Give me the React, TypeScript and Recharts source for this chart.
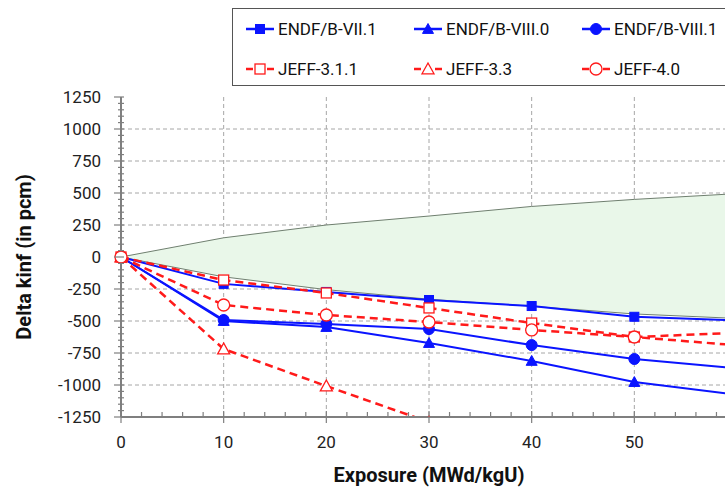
import {
  ComposedChart,
  Line,
  Area,
  XAxis,
  YAxis,
  CartesianGrid,
  Legend,
} from "recharts"

// exposure points (MWd/kgU)
const exposure = [0, 10, 20, 30, 40, 50, 60]

// delta kinf in pcm
const endf71 = [0, -210, -273, -336, -383, -467, -495]
const endf80 = [0, -500, -547, -672, -812, -977, -1075]
const endf81 = [0, -492, -523, -563, -688, -797, -870]
const jeff311 = [0, -180, -281, -398, -516, -625, -592]
const jeff33 = [0, -719, -1008, -1290, null, null, null]
const jeff40 = [0, -375, -453, -508, -570, -625, -690]

// uncertainty band
const bandHigh = [0, 150, 250, 320, 395, 450, 495]
const bandLow = [0, -155, -255, -330, -385, -445, -480]

const yMajor = [-1250, -1000, -750, -500, -250, 0, 250, 500, 750, 1000, 1250]
const xMajor = [0, 10, 20, 30, 40, 50, 60]

const yTicks: number[] = []
for (let v = -1250; v <= 1250; v += 50) yTicks.push(v)
const xTicks: number[] = []
for (let v = 0; v <= 60; v += 2) xTicks.push(v)

const BLUE = "#0a14ff"
const RED = "#ff1a1a"
const AXIS = "#7f7f7f"
const FONT = "Roboto, 'Open Sans', sans-serif"

type Shape = "square" | "triangle" | "circle"

const series = [
  { key: "endf71", name: "ENDF/B-VII.1", color: BLUE, shape: "square" as Shape, dashed: false },
  { key: "endf80", name: "ENDF/B-VIII.0", color: BLUE, shape: "triangle" as Shape, dashed: false },
  { key: "endf81", name: "ENDF/B-VIII.1", color: BLUE, shape: "circle" as Shape, dashed: false },
  { key: "jeff311", name: "JEFF-3.1.1", color: RED, shape: "square" as Shape, dashed: true },
  { key: "jeff33", name: "JEFF-3.3", color: RED, shape: "triangle" as Shape, dashed: true },
  { key: "jeff40", name: "JEFF-4.0", color: RED, shape: "circle" as Shape, dashed: true },
]

const values: Record<string, (number | null)[]> = { endf71, endf80, endf81, jeff311, jeff33, jeff40 }

const data = exposure.map((x, i) => {
  const row: any = { x, band: [bandLow[i], bandHigh[i]] }
  series.forEach((s) => (row[s.key] = values[s.key][i]))
  return row
})

function marker(shape: Shape, cx: number, cy: number, color: string, open: boolean, key?: any) {
  const fill = open ? "#fff" : color
  const sw = open ? 1.3 : 1
  if (shape === "square") {
    const h = open ? 5 : 4.5
    return <rect key={key} x={cx - h} y={cy - h} width={h * 2} height={h * 2} fill={fill} stroke={color} strokeWidth={sw} />
  }
  if (shape === "triangle") {
    const h = open ? 6 : 5.5
    return (
      <polygon
        key={key}
        points={`${cx},${cy - h} ${cx + h},${cy + h * 0.8} ${cx - h},${cy + h * 0.8}`}
        fill={fill}
        stroke={color}
        strokeWidth={sw}
      />
    )
  }
  return <circle key={key} cx={cx} cy={cy} r={open ? 6 : 5.5} fill={fill} stroke={color} strokeWidth={sw} />
}

const YTick = ({ x, y, payload }: any) => {
  const v = payload.value
  const major = v % 250 === 0
  return (
    <g>
      <line x1={major ? x - 7 : x - 3} x2={x + 3} y1={y} y2={y} stroke={AXIS} strokeWidth={1.2} />
      {major && (
        <text x={x - 20} y={y} dy={6} textAnchor="end" fontSize={17} fill="#222" fontFamily={FONT}>
          {v}
        </text>
      )}
    </g>
  )
}

const XTick = ({ x, y, payload }: any) => {
  const v = payload.value
  const major = v % 10 === 0
  return (
    <g>
      <line x1={x} x2={x} y1={major ? y - 6 : y - 5} y2={major ? y + 6 : y} stroke={AXIS} strokeWidth={1.2} />
      {major && (
        <text x={x} y={y + 31} textAnchor="middle" fontSize={17} fill="#222" fontFamily={FONT}>
          {v}
        </text>
      )}
    </g>
  )
}

const LegendBox = () => (
  <div
    style={{
      border: "1.5px solid #555",
      background: "#fff",
      width: 520,
      height: 78,
      boxSizing: "border-box",
      display: "grid",
      gridTemplateColumns: "168px 168px 168px",
      gridTemplateRows: "40px 40px",
      paddingLeft: 12,
      paddingTop: 0,
      fontFamily: FONT,
      fontSize: 17,
      color: "#111",
    }}
  >
    {series.map((s) => (
      <div key={s.key} style={{ display: "flex", alignItems: "center", whiteSpace: "nowrap" }}>
        <svg width={30} height={16} style={{ marginRight: 3 }}>
          {s.dashed ? (
            <>
              <line x1={1} x2={8} y1={8} y2={8} stroke={s.color} strokeWidth={2.5} />
              <line x1={22} x2={29} y1={8} y2={8} stroke={s.color} strokeWidth={2.5} />
            </>
          ) : (
            <line x1={1} x2={29} y1={8} y2={8} stroke={s.color} strokeWidth={2.5} />
          )}
          {marker(s.shape, 15, 8, s.color, s.dashed)}
        </svg>
        {s.name}
      </div>
    ))}
  </div>
)

export default function App() {
  return (
    <div style={{ position: "fixed", left: 0, top: 0, width: 725, height: 488, overflow: "hidden", background: "#fff" }}>
      <ComposedChart width={760} height={488} data={data} margin={{ top: 97, right: 23, left: 0, bottom: 0 }}>
        <CartesianGrid
          stroke="#a6a6a6"
          strokeDasharray="4 3"
          horizontalValues={yMajor.slice(1, -1)}
          verticalValues={xMajor.slice(1)}
        />
        <XAxis
          dataKey="x"
          type="number"
          domain={[0, 60]}
          ticks={xTicks}
          interval={0}
          tickSize={0}
          tickMargin={0}
          tickLine={false}
          tick={<XTick />}
          height={71}
          axisLine={{ stroke: AXIS, strokeWidth: 2 }}
          label={{
            value: "Exposure (MWd/kgU)",
            position: "insideBottom",
            offset: 6,
            fontSize: 20,
            fontWeight: 700,
            fill: "#111",
            fontFamily: FONT,
          }}
        />
        <XAxis
          xAxisId="top"
          dataKey="x"
          type="number"
          orientation="top"
          domain={[0, 60]}
          height={0}
          tick={false}
          tickLine={false}
          axisLine={{ stroke: "#8c8c8c", strokeWidth: 1.2 }}
        />
        <YAxis
          type="number"
          domain={[-1250, 1250]}
          allowDataOverflow
          ticks={yTicks}
          interval={0}
          tickSize={0}
          tickMargin={0}
          tickLine={false}
          tick={<YTick />}
          width={121}
          axisLine={{ stroke: AXIS, strokeWidth: 2 }}
          label={{
            value: "Delta kinf  (in pcm)",
            angle: -90,
            position: "insideLeft",
            offset: 0,
            dx: 24,
            style: { textAnchor: "middle" },
            fontSize: 20,
            fontWeight: 700,
            fill: "#111",
            fontFamily: FONT,
          }}
        />
        <Area
          dataKey="band"
          fill="#e9f7e9"
          fillOpacity={1}
          stroke="#6f7f6f"
          strokeWidth={1}
          isAnimationActive={false}
          legendType="none"
        />
        {series.map((s) => (
          <Line
            key={s.key}
            dataKey={s.key}
            name={s.name}
            stroke={s.color}
            strokeWidth={s.dashed ? 2.5 : 2}
            strokeDasharray={s.dashed ? "8 5" : undefined}
            isAnimationActive={false}
            connectNulls={false}
            dot={(p: any) =>
              p.cx == null || p.cy == null || p.value == null
                ? <g key={p.key} />
                : marker(s.shape, p.cx, p.cy, s.color, s.dashed, p.key)
            }
            activeDot={false}
          />
        ))}
        <Legend
          layout="vertical"
          align="center"
          verticalAlign="middle"
          wrapperStyle={{ position: "absolute", top: 8, left: 232, width: 520 }}
          content={() => <LegendBox />}
        />
      </ComposedChart>
    </div>
  )
}
